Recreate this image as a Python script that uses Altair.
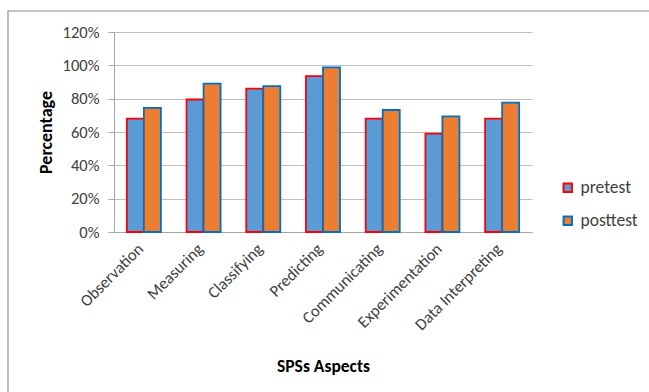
import altair as alt
import pandas as pd

aspects = ["Observation", "Measuring", "Classifying", "Predicting",
           "Communicating", "Experimentation", "Data Interpreting"]
pretest = [0.68, 0.795, 0.86, 0.935, 0.68, 0.59, 0.68]
posttest = [0.745, 0.89, 0.875, 0.988, 0.732, 0.694, 0.776]
series_names = ["pretest", "posttest"]
y_ticks = [0, 0.2, 0.4, 0.6, 0.8, 1.0, 1.2]

rows = []
for a, p, q in zip(aspects, pretest, posttest):
    rows.append({"aspect": a, "series": "pretest", "value": p})
    rows.append({"aspect": a, "series": "posttest", "value": q})
df = pd.DataFrame(rows)

FONT = "Carlito, Open Sans, sans-serif"
W, H = 418, 200
PAD_L, PAD_T = 114, 32

legend_cfg = dict(title=None, orient="none", legendX=445, legendY=147,
                  symbolType="square", symbolSize=70, symbolStrokeWidth=2,
                  labelFontSize=17.5, labelColor="#404040", labelFont=FONT,
                  rowPadding=14, labelOffset=4)

bars = alt.Chart(df).mark_bar(strokeWidth=1.8).encode(
    x=alt.X("aspect:N", sort=aspects,
            scale=alt.Scale(paddingInner=0.43, paddingOuter=0.215),
            axis=alt.Axis(title="SPSs Aspects", labelAngle=-45, labelAlign="right",
                          labelBaseline="middle", labelFontSize=16.5, labelColor="#404040",
                          labelFont=FONT, labelPadding=14, labelOffset=-3, ticks=False,
                          domainColor="#A6A6A6", titleFont=FONT, titleFontSize=17.5,
                          titleFontWeight="bold", titleColor="#000000", titlePadding=24)),
    xOffset=alt.XOffset("series:N", sort=series_names,
                        scale=alt.Scale(paddingInner=0, paddingOuter=0)),
    y=alt.Y("value:Q", scale=alt.Scale(domain=[0, 1.2]),
            axis=alt.Axis(title="Percentage", format=".0%", values=y_ticks,
                          labelFontSize=16.5, labelColor="#404040", labelFont=FONT,
                          tickSize=6, tickColor="#A6A6A6", labelPadding=9,
                          domainColor="#A6A6A6", gridColor="#BFBFBF",
                          titleFont=FONT, titleFontSize=18, titleFontWeight="bold",
                          titleColor="#000000", titlePadding=7)),
    fill=alt.Fill("series:N", sort=series_names,
                  scale=alt.Scale(domain=series_names, range=["#5B9BD5", "#ED7D31"]),
                  legend=alt.Legend(**legend_cfg)),
    stroke=alt.Stroke("series:N", sort=series_names,
                      scale=alt.Scale(domain=series_names, range=["#FF0000", "#0070C0"]),
                      legend=alt.Legend(**legend_cfg)),
)

frame = alt.Chart(pd.DataFrame({"k": [0]})).mark_rect(
    fill=None, stroke="#8C8C8C", strokeWidth=1.2
).encode(
    x=alt.value(8 - PAD_L), x2=alt.value(660 - PAD_L),
    y=alt.value(11 - PAD_T), y2=alt.value(400 - PAD_T)
)

chart = alt.layer(frame, bars).properties(
    width=W, height=H,
    autosize=alt.AutoSizeParams(type="none"),
    padding={"left": PAD_L, "top": PAD_T, "right": 649 - PAD_L - W, "bottom": 392 - PAD_T - H},
    background="white",
).configure_view(stroke=None)

chart.save("out.html", embed_options={"renderer": "svg", "actions": False})
